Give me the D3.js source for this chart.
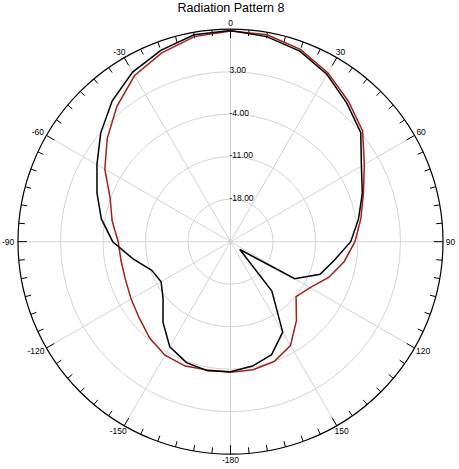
<!DOCTYPE html>
<html>
<head>
<meta charset="utf-8">
<script src="https://cdn.jsdelivr.net/npm/d3@7"></script>
<style>
  html, body { margin: 0; padding: 0; background: #fff; }
  svg { display: block; font-family: "Liberation Sans", Arial, sans-serif; }
</style>
</head>
<body>
<svg id="chart" width="459" height="469"></svg>
<script>
const title = "Radiation Pattern 8";
const angles = [-170,-160,-150,-140,-130,-120,-110,-100,-90,-80,-70,-60,-50,-40,-30,-20,-10,0,10,20,30,40,50,60,70,80,90,100,110,120,130,140,150,160,170,180];
const seriesBlack = [-3.4,-3.8,-5.0,-7.7,-10.5,-11.8,-11.2,-8.7,-5.6,-3.4,-1.6,0.4,2.9,5.3,7.25,8.55,9.6,9.8,9.3,8.4,6.8,4.8,3.0,-0.1,-1.9,-3.6,-5.2,-7.6,-9.3,-12.8,-23.0,-14.4,-7.8,-5.2,-4.2,-3.6];
const seriesRed = [-3.55,-3.2,-3.4,-4.3,-5.4,-6.1,-6.6,-6.7,-6.5,-5.2,-3.9,-1.1,1.5,4.1,6.6,8.1,9.3,9.7,9.6,8.7,7.1,5.2,3.4,0.45,-1.7,-3.2,-4.5,-6.0,-7.8,-9.85,-10.9,-8.1,-5.25,-4.0,-3.6,-3.5];
const ringValues = [-18, -11, -4, 3];
const radialDomain = [-25, 10];
const labelAngles = [0, 30, 60, 90, 120, 150, 180, -150, -120, -90, -60, -30];
const labelTexts = ["0", "30", "60", "90", "120", "150", "-180", "-150", "-120", "-90", "-60", "-30"];

const cx = 230.5, cy = 241.7, R = 212.5;
const svg = d3.select("#chart");

const r = d3.scaleLinear().domain(radialDomain).range([0, R]);
const a = d3.scaleLinear().domain([0, 360]).range([0, 2 * Math.PI]);

svg.append("text")
  .attr("x", 231).attr("y", 12)
  .attr("text-anchor", "middle")
  .attr("font-size", 12.5)
  .attr("fill", "#000")
  .text(title);

const g = svg.append("g").attr("transform", `translate(${cx},${cy})`);

// grid rings
g.selectAll("circle.ring").data(ringValues).enter().append("circle")
  .attr("class", "ring")
  .attr("r", d => r(d))
  .attr("fill", "none")
  .attr("stroke", "#d4d4d4")
  .attr("stroke-width", 1);

// spokes
const spokeAngles = d3.range(0, 360, 30);
g.selectAll("line.spoke").data(spokeAngles).enter().append("line")
  .attr("x1", 0).attr("y1", 0)
  .attr("x2", d => R * Math.sin(a(d)))
  .attr("y2", d => -R * Math.cos(a(d)))
  .attr("stroke", "#d4d4d4")
  .attr("stroke-width", 1);

// outer circle
g.append("circle").attr("r", R).attr("fill", "none").attr("stroke", "#000").attr("stroke-width", 1.2);

// ticks
const tickAngles = d3.range(0, 360, 5);
g.selectAll("line.tick").data(tickAngles).enter().append("line")
  .attr("x1", d => R * Math.sin(a(d)))
  .attr("y1", d => -R * Math.cos(a(d)))
  .attr("x2", d => (R - (d % 30 === 0 ? 9 : 6)) * Math.sin(a(d)))
  .attr("y2", d => -(R - (d % 30 === 0 ? 9 : 6)) * Math.cos(a(d)))
  .attr("stroke", "#000")
  .attr("stroke-width", 1);

// angle labels
labelAngles.forEach((ang, i) => {
  const t = a(ang);
  const s = Math.sin(t), c = Math.cos(t);
  const txt = labelTexts[i];
  const w = txt.length * 4.6;
  const h = 6.5;
  const px = (R + 3) * s + s * w / 2;
  const py = -(R + 3) * c - c * h / 2;
  g.append("text")
    .attr("x", px).attr("y", py)
    .attr("text-anchor", "middle")
    .attr("dominant-baseline", "central")
    .attr("font-size", 8.5)
    .attr("fill", "#000")
    .text(txt);
});

// ring labels
g.selectAll("text.ringlabel").data(ringValues).enter().append("text")
  .attr("x", -1)
  .attr("y", d => -r(d) + 1.5)
  .attr("font-size", 8.5)
  .attr("fill", "#000")
  .text(d => d.toFixed(2));

const line = d3.lineRadial()
  .angle(d => a(d[0]))
  .radius(d => r(d[1]))
  .curve(d3.curveLinearClosed);

g.append("path")
  .datum(angles.map((ang, i) => [ang, seriesRed[i]]))
  .attr("d", line)
  .attr("fill", "none")
  .attr("stroke", "#a3201c")
  .attr("stroke-width", 1.5);

g.append("path")
  .datum(angles.map((ang, i) => [ang, seriesBlack[i]]))
  .attr("d", line)
  .attr("fill", "none")
  .attr("stroke", "#000")
  .attr("stroke-width", 1.5);
</script>
</body>
</html>
